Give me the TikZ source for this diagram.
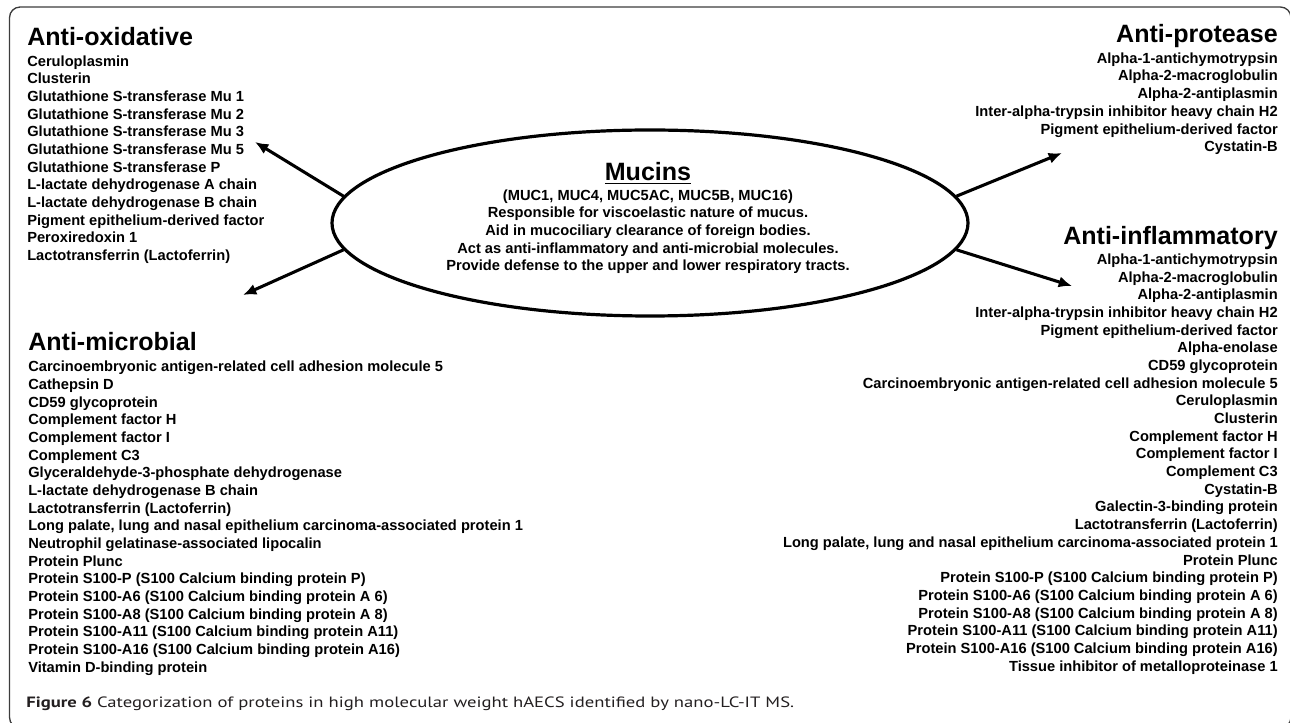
\documentclass[tikz,border=0pt]{standalone}
\usepackage{fontspec}
\setmainfont{Liberation Sans}
\newfontfamily\captionfont[FakeStretch=1.25]{PT Sans}
\usetikzlibrary{shapes.geometric,arrows.meta}

\begin{document}
\begin{tikzpicture}[x=0.75pt, y=-0.75pt,
    heading/.style={inner sep=0, font=\fontsize{18.8}{22}\selectfont\bfseries},
    itemlist/.style={inner sep=0, font=\fontsize{11}{13.26}\selectfont\bfseries},
    pointer/.style={line width=2.3pt, -{Latex[length=10pt,width=8.5pt]}}
]
    % Definitions
    \definecolor{frame-grey}{RGB}{60, 60, 60}
    \definecolor{caption-ink}{RGB}{35, 31, 32}

    \useasboundingbox (0,0) rectangle (1290,723);
    \draw[frame-grey, line width=1pt, rounded corners=8pt]
        (9.5,7) rectangle (1291,728);

    % Centre (lists are anchored at the baseline of their last line)
    \node[ellipse, draw, line width=2.4pt, inner sep=0,
          minimum width=477pt, minimum height=139.5pt
    ] (mucins) at (650,223) {};
    \node[heading, anchor=base] (mucinstitle) at (648,180.7)
        {\underline{Mucins}};
    \node[itemlist, align=center, anchor=base] (mucinstext) at (648,271)
        {(MUC1, MUC4, MUC5AC, MUC5B, MUC16)\\
         Responsible for viscoelastic nature of mucus.\\
         Aid in mucociliary clearance of foreign bodies.\\
         Act as anti-inflammatory and anti-microbial molecules.\\
         Provide defense to the upper and lower respiratory tracts.};

    % Anti-oxidative
    \node[heading, anchor=base west] (oxtitle) at (27,45.7) {Anti-oxidative};
    \node[itemlist, align=left, anchor=base west] (oxlist) at (27,260.5)
        {Ceruloplasmin\\
         Clusterin\\
         Glutathione S-transferase Mu 1\\
         Glutathione S-transferase Mu 2\\
         Glutathione S-transferase Mu 3\\
         Glutathione S-transferase Mu 5\\
         Glutathione S-transferase P\\
         L-lactate dehydrogenase A chain\\
         L-lactate dehydrogenase B chain\\
         Pigment epithelium-derived factor\\
         Peroxiredoxin 1\\
         Lactotransferrin (Lactoferrin)};

    % Anti-protease
    \node[heading, anchor=base east] (protitle) at (1278,42.7) {Anti-protease};
    \node[itemlist, align=right, anchor=base east] (prolist) at (1278,151.7)
        {Alpha-1-antichymotrypsin\\
         Alpha-2-macroglobulin\\
         Alpha-2-antiplasmin\\
         Inter-alpha-trypsin inhibitor heavy chain H2\\
         Pigment epithelium-derived factor\\
         Cystatin-B};

    % Anti-inflammatory
    \node[heading, anchor=base east] (inftitle) at (1278,245) {Anti-inflammatory};
    \node[itemlist, align=right, anchor=base east] (inflist) at (1278,671.1)
        {Alpha-1-antichymotrypsin\\
         Alpha-2-macroglobulin\\
         Alpha-2-antiplasmin\\
         Inter-alpha-trypsin inhibitor heavy chain H2\\
         Pigment epithelium-derived factor\\
         Alpha-enolase\\
         CD59 glycoprotein\\
         Carcinoembryonic antigen-related cell adhesion molecule 5\\
         Ceruloplasmin\\
         Clusterin\\
         Complement factor H\\
         Complement factor I\\
         Complement C3\\
         Cystatin-B\\
         Galectin-3-binding protein\\
         Lactotransferrin (Lactoferrin)\\
         Long palate, lung and nasal epithelium carcinoma-associated protein 1\\
         Protein Plunc\\
         Protein S100-P (S100 Calcium binding protein P)\\
         Protein S100-A6 (S100 Calcium binding protein A 6)\\
         Protein S100-A8 (S100 Calcium binding protein A 8)\\
         Protein S100-A11 (S100 Calcium binding protein A11)\\
         Protein S100-A16 (S100 Calcium binding protein A16)\\
         Tissue inhibitor of metalloproteinase 1};

    % Anti-microbial
    \node[heading, anchor=base west] (mictitle) at (28,351) {Anti-microbial};
    \node[itemlist, align=left, anchor=base west] (miclist) at (28,672.3)
        {Carcinoembryonic antigen-related cell adhesion molecule 5\\
         Cathepsin D\\
         CD59 glycoprotein\\
         Complement factor H\\
         Complement factor I\\
         Complement C3\\
         Glyceraldehyde-3-phosphate dehydrogenase\\
         L-lactate dehydrogenase B chain\\
         Lactotransferrin (Lactoferrin)\\
         Long palate, lung and nasal epithelium carcinoma-associated protein 1\\
         Neutrophil gelatinase-associated lipocalin\\
         Protein Plunc\\
         Protein S100-P (S100 Calcium binding protein P)\\
         Protein S100-A6 (S100 Calcium binding protein A 6)\\
         Protein S100-A8 (S100 Calcium binding protein A 8)\\
         Protein S100-A11 (S100 Calcium binding protein A11)\\
         Protein S100-A16 (S100 Calcium binding protein A16)\\
         Vitamin D-binding protein};

    % Arrows
    \coordinate (oxtip) at (255,142);
    \coordinate (mictip) at (243,295);
    \coordinate (protip) at (1062,153);
    \coordinate (inftip) at (1072,286);
    \draw[pointer] (mucins.175) -- (oxtip);
    \draw[pointer] (mucins.185) -- (mictip);
    \draw[pointer] (mucins.5) -- (protip);
    \draw[pointer] (mucins.-5) -- (inftip);

    % Caption
    \node[inner sep=0, anchor=base west, text=caption-ink,
          font=\captionfont\fontsize{11.2}{13}\selectfont
    ] (caption) at (26,707.3)
        {\textbf{Figure 6} Categorization of proteins in high molecular weight hAECS identified by nano-LC-IT MS.};
\end{tikzpicture}
\end{document}
